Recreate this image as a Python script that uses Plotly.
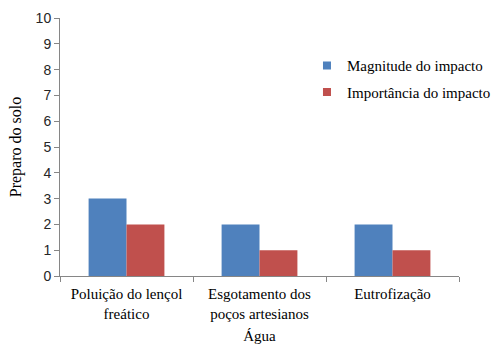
import plotly.graph_objects as go

categories = ["Poluição do lençol<br>freático", "Esgotamento dos<br>poços artesianos", "Eutrofização"]
magnitude = [3, 2, 2]
importancia = [2, 1, 1]
series_names = ["Magnitude do impacto", "Importância do impacto"]
colors = ["#4F81BD", "#C0504D"]

serif = "Liberation Serif"
sans = "Liberation Sans"

fig = go.Figure()
for i, (name, vals) in enumerate(zip(series_names, [magnitude, importancia])):
    fig.add_trace(go.Bar(
        x=categories, y=vals, name=name, marker_color=colors[i],
        marker_line_width=0, showlegend=False,
    ))
# small square legend keys
for i, name in enumerate(series_names):
    fig.add_trace(go.Scatter(
        x=[None], y=[None], mode="markers", name=name,
        marker=dict(symbol="square", size=8, color=colors[i]),
        legendgroup=f"g{i}",
    ))

fig.update_layout(
    width=494, height=345,
    margin=dict(l=60, r=35, t=18, b=69, autoexpand=False),
    paper_bgcolor="white", plot_bgcolor="white",
    barmode="group", bargap=0.43, bargroupgap=0,
    showlegend=True,
    legend=dict(
        x=0.619, y=0.879, xanchor="left", yanchor="top",
        font=dict(family=serif, size=15, color="black"),
        itemwidth=30, tracegroupgap=4, bgcolor="rgba(0,0,0,0)",
    ),
    xaxis=dict(
        showline=True, linecolor="#868686", linewidth=1,
        ticks="outside", tickson="boundaries", ticklen=5, tickcolor="#868686",
        ticklabelstandoff=4,
        tickfont=dict(family=serif, size=15, color="black"),
        title=dict(text="Água", font=dict(family=serif, size=15, color="black"), standoff=9),
    ),
    yaxis=dict(
        range=[0, 10], dtick=1, showgrid=False, zeroline=False,
        showline=True, linecolor="#868686", linewidth=1,
        ticks="outside", ticklen=5, tickcolor="#868686",
        tickfont=dict(family=sans, size=14, color="#262626"),
        title=dict(text="Preparo do solo", font=dict(family=serif, size=16, color="black"), standoff=10),
    ),
)

fig.write_html("out.html")
